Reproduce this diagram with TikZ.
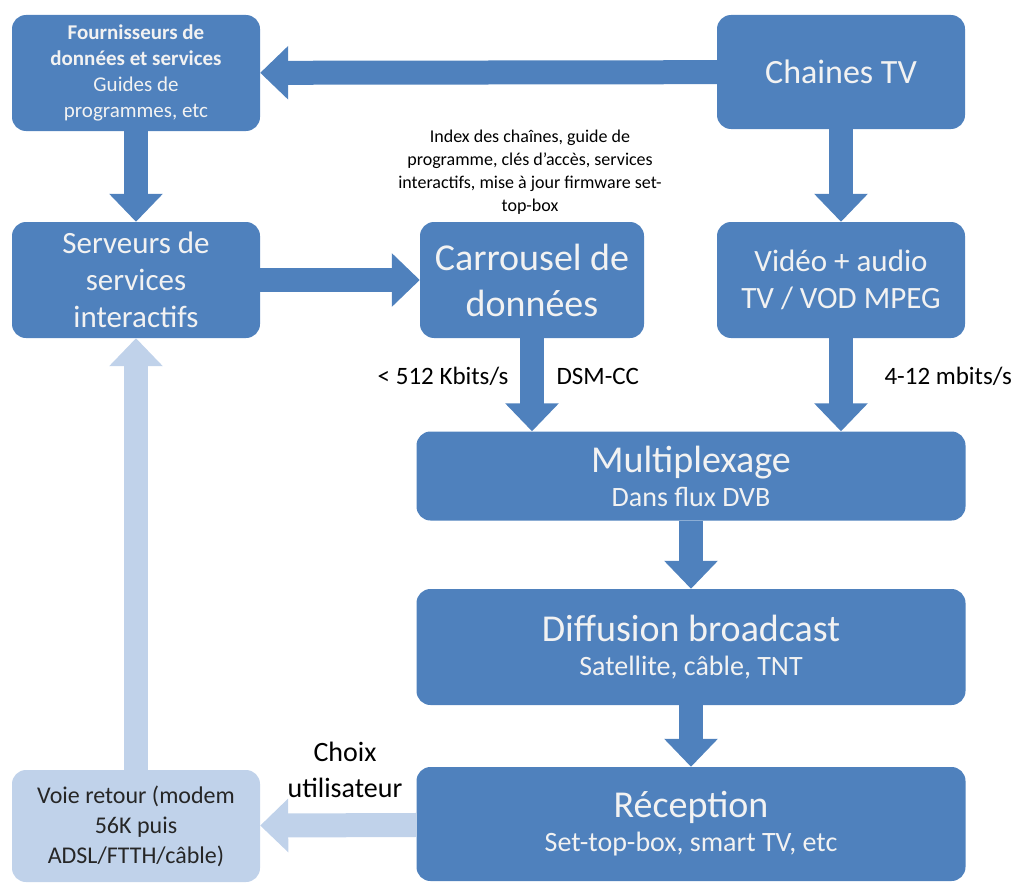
\documentclass[tikz,border=0pt]{standalone}
\usepackage{fontspec}
\setmainfont{Carlito}
\usepackage{tikz}
\usetikzlibrary{arrows.meta}

\definecolor{boxblue}{RGB}{79,129,189}
\definecolor{backblue}{RGB}{192,210,234}
\definecolor{boxtext}{RGB}{242,242,242}
\definecolor{darktext}{RGB}{38,38,38}

\newcommand{\titlefont}{\fontsize{38}{46}\selectfont}
\newcommand{\midfont}{\fontsize{31}{37}\selectfont}
\newcommand{\subfont}{\fontsize{28}{34}\selectfont}
\newcommand{\labelfont}{\fontsize{25}{30}\selectfont}
\newcommand{\smallfont}{\fontsize{18}{23}\selectfont}

\tikzset{
    box/.style={fill=boxblue, text=boxtext, rounded corners=14pt, inner sep=0pt, align=center},
    backbox/.style={box, fill=backblue, text=darktext},
    bigarrow/.style={draw=boxblue, line width=24pt, -{Triangle[width=52pt,length=28pt]}},
    backarrow/.style={bigarrow, draw=backblue},
}

\begin{document}
\begin{tikzpicture}[x=1pt,y=-1pt]
        \useasboundingbox (0,0) rectangle (1026,883);
        % boxes
        \node[box, minimum width=248pt, minimum height=116pt, font=\fontsize{21}{26}\selectfont] (fourn) at (136,73)
            {\textbf{Fournisseurs de}\\\textbf{données et services}\\Guides de\\programmes, etc};
        \node[box, minimum width=248pt, minimum height=114pt, font=\fontsize{34}{40}\selectfont] (chaines) at (841,72) {Chaines TV};
        \node[box, minimum width=248pt, minimum height=116pt, font=\midfont] (serv) at (136,280)
            {Serveurs de\\services\\interactifs};
        \node[box, minimum width=224pt, minimum height=116pt, font=\titlefont] (carr) at (532,280)
            {Carrousel de\\données};
        \node[box, minimum width=248pt, minimum height=116pt, font=\midfont] (video) at (841,280)
            {Vidéo + audio\\TV / VOD MPEG};
        \node[box, minimum width=549pt, minimum height=89pt, font=\subfont] (mux) at (691,476)
            {{\titlefont Multiplexage}\\Dans flux DVB};
        \node[box, minimum width=549pt, minimum height=116pt, font=\subfont] (diff) at (691,647)
            {{\titlefont Diffusion broadcast}\\Satellite, câble, TNT};
        \node[box, minimum width=549pt, minimum height=114pt, font=\subfont] (rec) at (691,824)
            {{\titlefont Réception}\\Set-top-box, smart TV, etc};
        \node[backbox, minimum width=248pt, minimum height=112pt, font=\fontsize{24}{30}\selectfont] (voie) at (136,826)
            {Voie retour (modem\\56K puis\\ADSL/FTTH/câble)};
        % texts
        \node[font=\smallfont, align=center] (info) at (530,172)
            {Index des chaînes, guide de\\programme, clés d’accès, services\\interactifs, mise à jour firmware set-\\top-box};
        \node[font=\labelfont, anchor=east] (debit) at (512,376) {< 512 Kbits/s};
        \node[font=\labelfont, anchor=west] (dsm) at (553,376) {DSM-CC};
        \node[font=\labelfont, anchor=west] (mpeg) at (881,376) {4-12 mbits/s};
        \node[font=\fontsize{28}{36}\selectfont, align=center] (choix) at (345,770) {Choix\\utilisateur};
        % arrows
        \draw[bigarrow] (chaines) -- (fourn);
        \draw[bigarrow] (serv) -- (carr);
        \foreach \a/\b in {fourn/serv, chaines/video, carr/mux, video/mux, mux/diff, diff/rec}
        \draw[bigarrow] (\a.south) -- (\a.south |- \b.north);
        \draw[backarrow] (rec) -- (voie);
        \draw[backarrow] (voie) -- (serv);
\end{tikzpicture}
\end{document}
